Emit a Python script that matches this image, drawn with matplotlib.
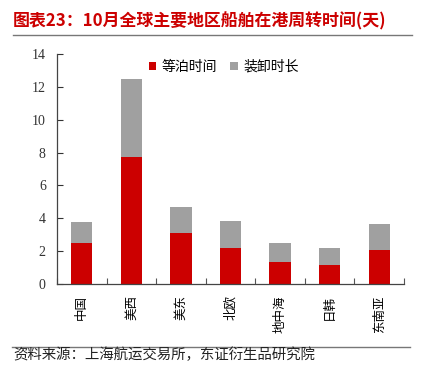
import matplotlib
matplotlib.use("Agg")
import matplotlib.pyplot as plt
import numpy as np
from matplotlib.lines import Line2D

plt.rcParams['font.family'] = ['Noto Sans CJK SC', 'DejaVu Sans']

categories = ['中国', '美西', '美东', '北欧', '地中海', '日韩', '东南亚']
wait_time = [2.50, 7.76, 3.13, 2.20, 1.32, 1.16, 2.09]
handle_time = [1.26, 4.74, 1.58, 1.66, 1.18, 1.05, 1.55]
yticks = [0, 2, 4, 6, 8, 10, 12, 14]
title = '图表23：10月全球主要地区船舶在港周转时间(天)'
source = '资料来源：上海航运交易所，东证衍生品研究院'

red = '#CC0000'
gray = '#A0A0A0'

fig = plt.figure(figsize=(4.28, 3.79), dpi=100)
ax = fig.add_axes([0.133, 0.2507, 0.811, 0.6068])

x = np.arange(len(categories))
ax.bar(x, wait_time, width=0.43, color=red, label='等泊时间', zorder=2)
ax.bar(x, handle_time, width=0.43, bottom=wait_time, color=gray, label='装卸时长', zorder=2)

ax.set_xlim(-0.5, len(categories) - 0.5)
ax.set_ylim(0, 14)
ax.set_yticks(yticks)
ax.set_yticklabels([str(v) for v in yticks], fontfamily='Liberation Serif', fontsize=10)
ax.tick_params(axis='y', direction='in', length=4, width=0.8, pad=8, colors='#333333')

ax.set_xticks(x)
ax.set_xticklabels(categories, rotation=90, fontsize=9, va='top', ha='center')
ax.tick_params(axis='x', which='major', length=0, pad=8)
ax.set_xticks(np.arange(-0.5, len(categories)), minor=True)
ax.tick_params(axis='x', which='minor', direction='in', length=4, width=0.8, color='#555555')

for s in ['top', 'right']:
    ax.spines[s].set_visible(False)
for s in ['left', 'bottom']:
    ax.spines[s].set_color('#444444')
    ax.spines[s].set_linewidth(0.9)

leg = ax.legend(loc='upper center', bbox_to_anchor=(0.48, 1.03), ncol=2, frameon=False,
                fontsize=10, handlelength=0.55, handleheight=0.55, handletextpad=0.35,
                columnspacing=1.0)

fig.text(0.03, 0.945, title, color=red, fontsize=12.2, fontweight='bold', va='center', ha='left')
fig.add_artist(Line2D([0.03, 0.963], [0.907, 0.907], color='#777777', lw=1.0))
fig.add_artist(Line2D([0.028, 0.958], [0.085, 0.085], color='#777777', lw=1.0))
fig.text(0.03, 0.063, source, fontsize=10.4, va='center', ha='left', color='#222222')

fig.savefig('out.png', dpi=100)
